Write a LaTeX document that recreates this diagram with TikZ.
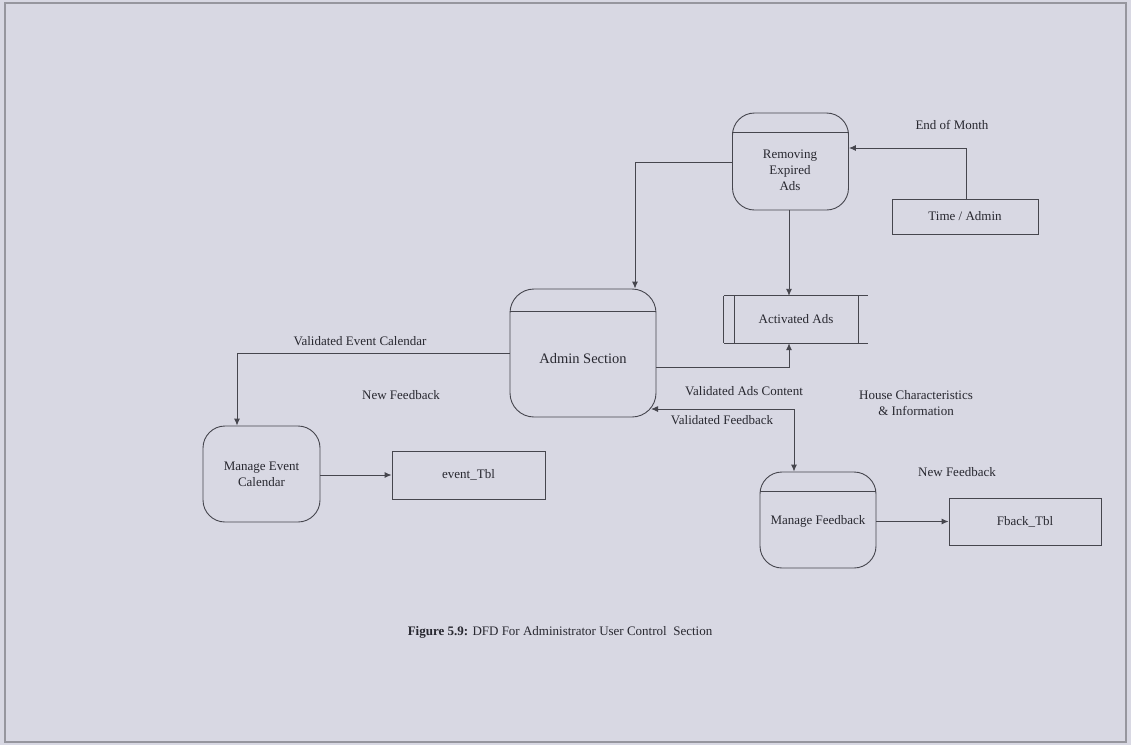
\documentclass[tikz,border=0pt]{standalone}
\usepackage{fontspec}
\setmainfont{Liberation Serif}
\usetikzlibrary{arrows.meta,calc}
\definecolor{paper}{RGB}{216,216,227}
\definecolor{ink}{RGB}{70,70,78}
\definecolor{txt}{RGB}{40,40,48}
\definecolor{frame}{RGB}{150,150,158}
\begin{document}
\begin{tikzpicture}[x=1pt,y=-1pt,
  font=\fontsize{13}{16}\selectfont, text=txt,
  tip/.tip={Latex[length=7pt,width=6pt]},
  flow/.style={draw=ink, line width=0.9pt, -tip},
  proc/.style={draw=ink, line width=0.9pt, rounded corners=22pt, inner sep=0pt,
    minimum width=116pt, minimum height=97pt, align=center},
  entity/.style={draw=ink, line width=0.9pt, inner sep=0pt, align=center},
  storebox/.style={inner sep=0pt, minimum width=144pt, minimum height=47pt},
  lbl/.style={inner sep=0pt, align=center}]
% paper and frame
\fill[paper] (0,0) rectangle (1131,745);
\useasboundingbox (0,0) rectangle (1131,745);
\draw[frame, line width=1.4pt] (5,3) rectangle (1126,742);

% processes
\node[proc] (rem) at (790.5,161.5) {};
\node[lbl] at (790,170) {Removing\\Expired\\Ads};
\draw[ink, line width=0.9pt] ([yshift=-20pt]rem.north west) -- ([yshift=-20pt]rem.north east);

\node[proc, rounded corners=24pt, minimum width=146pt, minimum height=128pt] (admin) at (583,353) {};
\node[lbl, font=\fontsize{14.5}{16}\selectfont] at (583,359) {Admin Section};
\draw[ink, line width=0.9pt] ([yshift=-23pt]admin.north west) -- ([yshift=-23pt]admin.north east);

\node[proc, minimum width=117pt, minimum height=96pt] (mec) at (261.5,474) {Manage Event\\Calendar};

\node[proc, minimum width=116pt, minimum height=96pt] (mfb) at (818,520) {};
\node[lbl] at (818,521) {Manage Feedback};
\draw[ink, line width=0.9pt] ([yshift=-20pt]mfb.north west) -- ([yshift=-20pt]mfb.north east);

% external entities and tables
\node[entity, minimum width=146pt, minimum height=35pt] (time) at (965,216.5) {Time / Admin};
\node[entity, minimum width=153pt, minimum height=48pt] (evt) at (468.5,475) {event\_Tbl};
\node[entity, minimum width=152pt, minimum height=47pt] (fbk) at (1025,521.5) {Fback\_Tbl};

% data store
\node[storebox] (act) at (796,319.5) {Activated Ads};
\draw[ink, line width=0.9pt]
  (act.north west) -- (act.north east)
  (act.south west) -- (act.south east)
  (act.north west) -- (act.south west)
  ([xshift=11pt]act.north west) -- ([xshift=11pt]act.south west)
  ([xshift=-10pt]act.north east) -- ([xshift=-10pt]act.south east);

% flows
\coordinate (t1) at (966,148);
\draw[flow] (time.north -| t1) -- (t1) -- (t1 -| rem.east);

\coordinate (r1) at (635,162);
\draw[flow] (rem.west |- r1) -- (r1) -- (r1 |- admin.north);

\coordinate (r2) at (789,0);
\draw[flow] (rem.south -| r2) -- (act.north -| r2);

\coordinate (a1) at (789,367);
\draw[flow] (admin.east |- a1) -- (a1) -- (a1 |- act.south);

\coordinate (a2) at (237,353);
\draw[flow] (admin.west) -- (a2) -- (a2 |- mec.north);

\draw[flow] (mec.east |- evt.west) -- (evt.west);

\coordinate (a3) at (794,409);
\coordinate (a4) at (651,409);
\draw[flow, tip-tip] (a4) -- (a3) -- (a3 |- mfb.north);

\draw[flow] (mfb.east |- fbk.west) -- (fbk.west);

% flow labels
\node[lbl] at (952,125) {End of Month};
\node[lbl] at (360,341) {Validated Event Calendar};
\node[lbl] at (401,395) {New Feedback};
\node[lbl] at (744,391) {Validated Ads Content};
\node[lbl] at (722,420) {Validated Feedback};
\node[lbl] at (916,403) {House Characteristics\\\& Information};
\node[lbl] at (957,472) {New Feedback};

% caption
\node[lbl, font=\fontsize{13}{15}\selectfont] at (560,632) {\textbf{Figure 5.9:} DFD For Administrator User Control~ Section};
\end{tikzpicture}
\end{document}
